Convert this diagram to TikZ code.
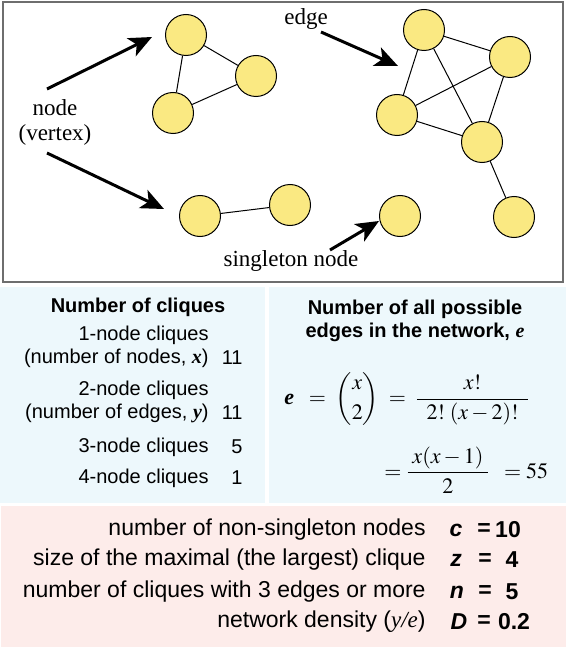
\documentclass[tikz,border=0pt]{standalone}
\usepackage{amsmath}
\usepackage{mathptmx}
\usepackage{fontspec}
\setmainfont{Liberation Serif}
\setsansfont{Liberation Sans}
\usetikzlibrary{arrows.meta}
\definecolor{nodeyellow}{RGB}{250,233,130}
\definecolor{panelblue}{RGB}{237,248,252}
\definecolor{panelpink}{RGB}{253,236,234}
\definecolor{framegray}{RGB}{110,110,110}
\newcommand{\bvar}[1]{{\rmfamily\bfseries\itshape #1}}
\newcommand{\svar}[1]{{\sffamily\bfseries\itshape #1}}
\begin{document}
\begin{tikzpicture}[
        x=1pt,
        y=-1pt,
        thick
    ]
    \tikzset{
        vert/.style = {circle, draw=black, line width=1pt, fill=nodeyellow, minimum size=41pt, inner sep=0pt},
        edgen/.style = {-, line width=1pt},
        pointer/.style = {-{Stealth[length=23pt,width=20pt,inset=6pt]}, line width=3pt},
        lbl/.style = {font=\rmfamily\fontsize{23}{25}\selectfont, inner sep=0pt, align=center},
        cliq/.style = {font=\sffamily\fontsize{20}{23}\selectfont, inner sep=0pt, anchor=east},
        ttl/.style = {font=\sffamily\bfseries\fontsize{20}{23}\selectfont, inner sep=0pt, align=center},
        meas/.style = {font=\sffamily\fontsize{23}{26}\selectfont, inner sep=0pt},
        measv/.style = {font=\sffamily\bfseries\fontsize{23}{26}\selectfont, inner sep=0pt},
        frm/.style = {font=\fontsize{22}{26}\selectfont, inner sep=0pt},
    }
    \useasboundingbox (0,0) rectangle (566,647);
    \draw[framegray, line width=1.3pt, fill=white] (3,2) rectangle (563,282);
    \fill[panelblue] (0,287) rectangle (265,503);
    \fill[panelblue] (269,287) rectangle (566,503);
    \fill[panelpink] (1,506) rectangle (566,647);
    %
    \node[vert] at (186,35) (t1) {};
    \node[vert] at (256,76) (t2) {};
    \node[vert] at (173,113) (t3) {};
    \node[vert] at (200,216) (p1) {};
    \node[vert] at (290,205) (p2) {};
    \node[vert] at (400,216) (s1) {};
    \node[vert] at (424,30) (k1) {};
    \node[vert] at (510,57) (k2) {};
    \node[vert] at (397,115) (k3) {};
    \node[vert] at (482,142) (k4) {};
    \node[vert] at (514,217) (k5) {};
    %
    \draw[edgen] (t1) edge (t2) (t2) edge (t3) (t3) edge (t1);
    \draw[edgen] (p1) edge (p2);
    \draw[edgen] (k1) edge (k2) (k1) edge (k3) (k1) edge (k4);
    \draw[edgen] (k2) edge (k3) (k2) edge (k4) (k3) edge (k4);
    \draw[edgen] (k4) edge (k5);
    %
    \node[lbl] at (306,19) (edgelbl) {edge};
    \node[lbl] at (55,122) (nodelbl) {node\\(vertex)};
    \node[lbl] at (291,261) (singlbl) {singleton node};
    \coordinate (ea) at (321,32);
    \coordinate (eb) at (398,66);
    \coordinate (na) at (47,89);
    \coordinate (nb) at (152,37);
    \coordinate (nc) at (47,153);
    \coordinate (nd) at (164,209);
    \coordinate (sa) at (330,250);
    \coordinate (sb) at (379,221);
    \draw[pointer] (ea) -- (eb);
    \draw[pointer] (na) -- (nb);
    \draw[pointer] (nc) -- (nd);
    \draw[pointer] (sa) -- (sb);
    %
    \node[ttl] at (138,307) (cqt) {Number of cliques};
    \node[cliq] at (209,335) (c1a) {1-node cliques};
    \node[cliq] at (209,358) (c1b) {(number of nodes, \bvar{x})};
    \node[cliq] at (243,358) (c1n) {11};
    \node[cliq] at (209,390) (c2a) {2-node cliques};
    \node[cliq] at (209,413) (c2b) {(number of edges, \bvar{y})};
    \node[cliq] at (243,413) (c2n) {11};
    \node[cliq] at (209,447) (c3a) {3-node cliques};
    \node[cliq] at (243,447) (c3n) {5};
    \node[cliq] at (209,478) (c4a) {4-node cliques};
    \node[cliq] at (243,478) (c4n) {1};
    %
    \node[ttl] at (415,321) (edt) {Number of all possible\\edges in the network, \bvar{e}};
    \node[frm, anchor=west] at (284,399) (eqa) {$\textbf{\textit{e}}\;\;=\;\dbinom{x}{2}\;=\;\dfrac{x!}{\;\;2!\;(x-2)!\;\;}$};
    \node[frm, anchor=west] at (384,470) (eqb) {$=\dfrac{\;x(x-1)\;}{2}\;\;=55$};
    %
    \node[meas, anchor=east] at (426,530) (m1) {number of non-singleton nodes};
    \node[meas, anchor=east] at (426,560) (m2) {size of the maximal (the largest) clique};
    \node[meas, anchor=east] at (426,592) (m3) {number of cliques with 3 edges or more};
    \node[meas, anchor=east] at (426,622) (m4) {network density ({\rmfamily\itshape y/e})};
    \node[measv] at (456,530) (v1) {\svar{c}};
    \node[measv] at (456,560) (v2) {\svar{z}};
    \node[measv] at (457,592) (v3) {\svar{n}};
    \node[measv] at (459,622) (v4) {\svar{D}};
    \node[measv] at (484,530) (q1) {=};
    \node[measv] at (485,560) (q2) {=};
    \node[measv] at (485,592) (q3) {=};
    \node[measv] at (484,622) (q4) {=};
    \node[measv] at (508,530) (n1) {10};
    \node[measv] at (512,560) (n2) {4};
    \node[measv] at (512,592) (n3) {5};
    \node[measv] at (514,622) (n4) {0.2};
\end{tikzpicture}
\end{document}
